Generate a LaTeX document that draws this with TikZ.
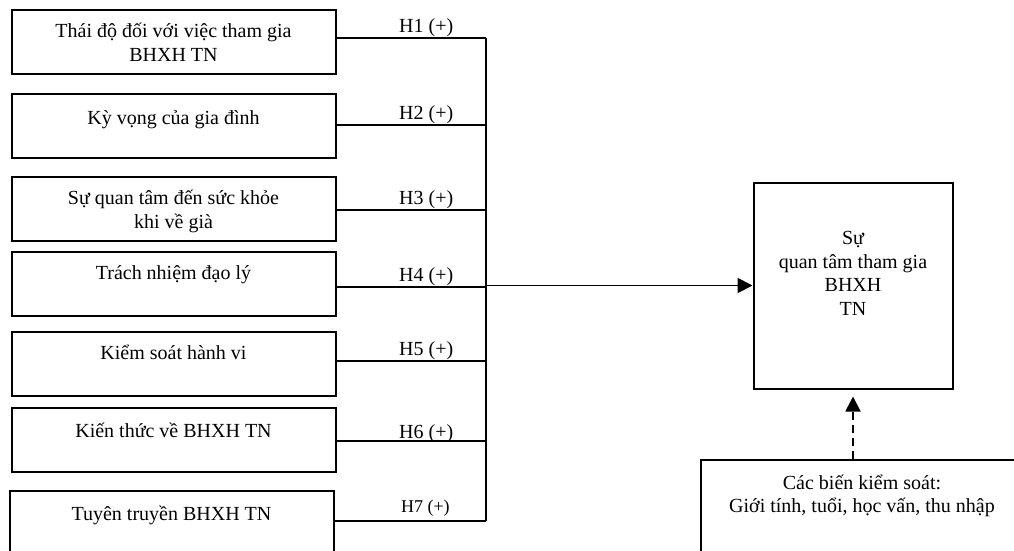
\documentclass[tikz,border=0pt]{standalone}
\usepackage{fontspec}
\setmainfont{Liberation Serif}
\usetikzlibrary{arrows.meta,positioning}

\tikzset{
	factor/.style={draw, line width=2pt, minimum width=324pt, minimum height=64pt, inner sep=0pt},
	caption/.style={anchor=base, align=center, inner sep=0pt},
	hyp/.style={anchor=base, inner sep=0pt, yshift=6pt},
	link/.style={line width=1.8pt},
	tip/.style={-{Triangle[length=15pt,width=15pt]}},
}

\begin{document}
\begin{tikzpicture}[x=1pt,y=-1pt,font=\fontsize{20}{23.5}\selectfont]
		\useasboundingbox (0,0) rectangle (1014,550);
		\clip (0,0) rectangle (1014,550);

		\node[factor] (f1) at (173.5,41.5) {};
		\node[factor] (f2) at (173.5,126) {};
		\node[factor] (f3) at (173.5,208.5) {};
		\node[factor] (f4) at (173.5,284) {};
		\node[factor] (f5) at (173.5,364) {};
		\node[factor] (f6) at (173.5,440) {};
		\node[factor] (f7) at (171.5,523) {};

		% base of a multi-line caption is its last line
		\node[caption] (c1) at ([yshift=-52.5pt]f1.north) {Thái độ đối với việc tham gia\\BHXH TN};
		\node[caption] (c2) at ([yshift=-31pt]f2.north) {Kỳ vọng của gia đình};
		\node[caption] (c3) at ([yshift=-52.5pt]f3.north) {Sự quan tâm đến sức khỏe\\khi về già};
		\node[caption] (c4) at ([yshift=-28pt]f4.north) {Trách nhiệm đạo lý};
		\node[caption] (c5) at ([yshift=-28pt]f5.north) {Kiểm soát hành vi};
		\node[caption] (c6) at ([yshift=-30pt]f6.north) {Kiến thức về BHXH TN};
		\node[caption] (c7) at ([yshift=-30pt]f7.north) {Tuyên truyền BHXH TN};

		\coordinate (j1) at (486,38);
		\coordinate (j2) at (486,125);
		\coordinate (j3) at (486,210);
		\coordinate (j4) at (486,287);
		\coordinate (j5) at (486,361);
		\coordinate (j6) at (486,441);
		\coordinate (j7) at (486,521);

		\draw[link] (f1.east |- j1) -- node[pos=.6, hyp] {H1 (+)} (j1);
		\draw[link] (f2.east |- j2) -- node[pos=.6, hyp] {H2 (+)} (j2);
		\draw[link] (f3.east |- j3) -- node[pos=.6, hyp] {H3 (+)} (j3);
		\draw[link] (f4.east |- j4) -- node[pos=.6, hyp] {H4 (+)} (j4);
		\draw[link] (f5.east |- j5) -- node[pos=.6, hyp] {H5 (+)} (j5);
		\draw[link] (f6.east |- j6) -- node[pos=.6, hyp, yshift=-3pt] {H6 (+)} (j6);
		\draw[link] (f7.east |- j7) -- node[pos=.6, hyp, yshift=3pt, font=\fontsize{18}{20}\selectfont] {H7 (+)} (j7);
		\draw[link] (j1) -- (j7);

		\node[draw, line width=2pt, minimum width=199pt, minimum height=206pt] (target) at (853,285.5) {};
		\node[caption] (tc) at ([yshift=-133.5pt]target.north) {Sự\\quan tâm tham gia\\BHXH\\TN};
		\draw[link, tip] (j1 |- target.west) -- (target.west);

		\node[draw, line width=2pt, minimum width=322pt, minimum height=110pt] (ctrl) at (862,515) {};
		\node[caption] (cc) at ([yshift=-53.5pt]ctrl.north) {Các biến kiểm soát:\\Giới tính, tuổi, học vấn, thu nhập};
		\draw[link, tip, dash pattern=on 8pt off 5pt, shorten >=7pt] (ctrl.north -| target.south) -- (target.south);
	\end{tikzpicture}
\end{document}
